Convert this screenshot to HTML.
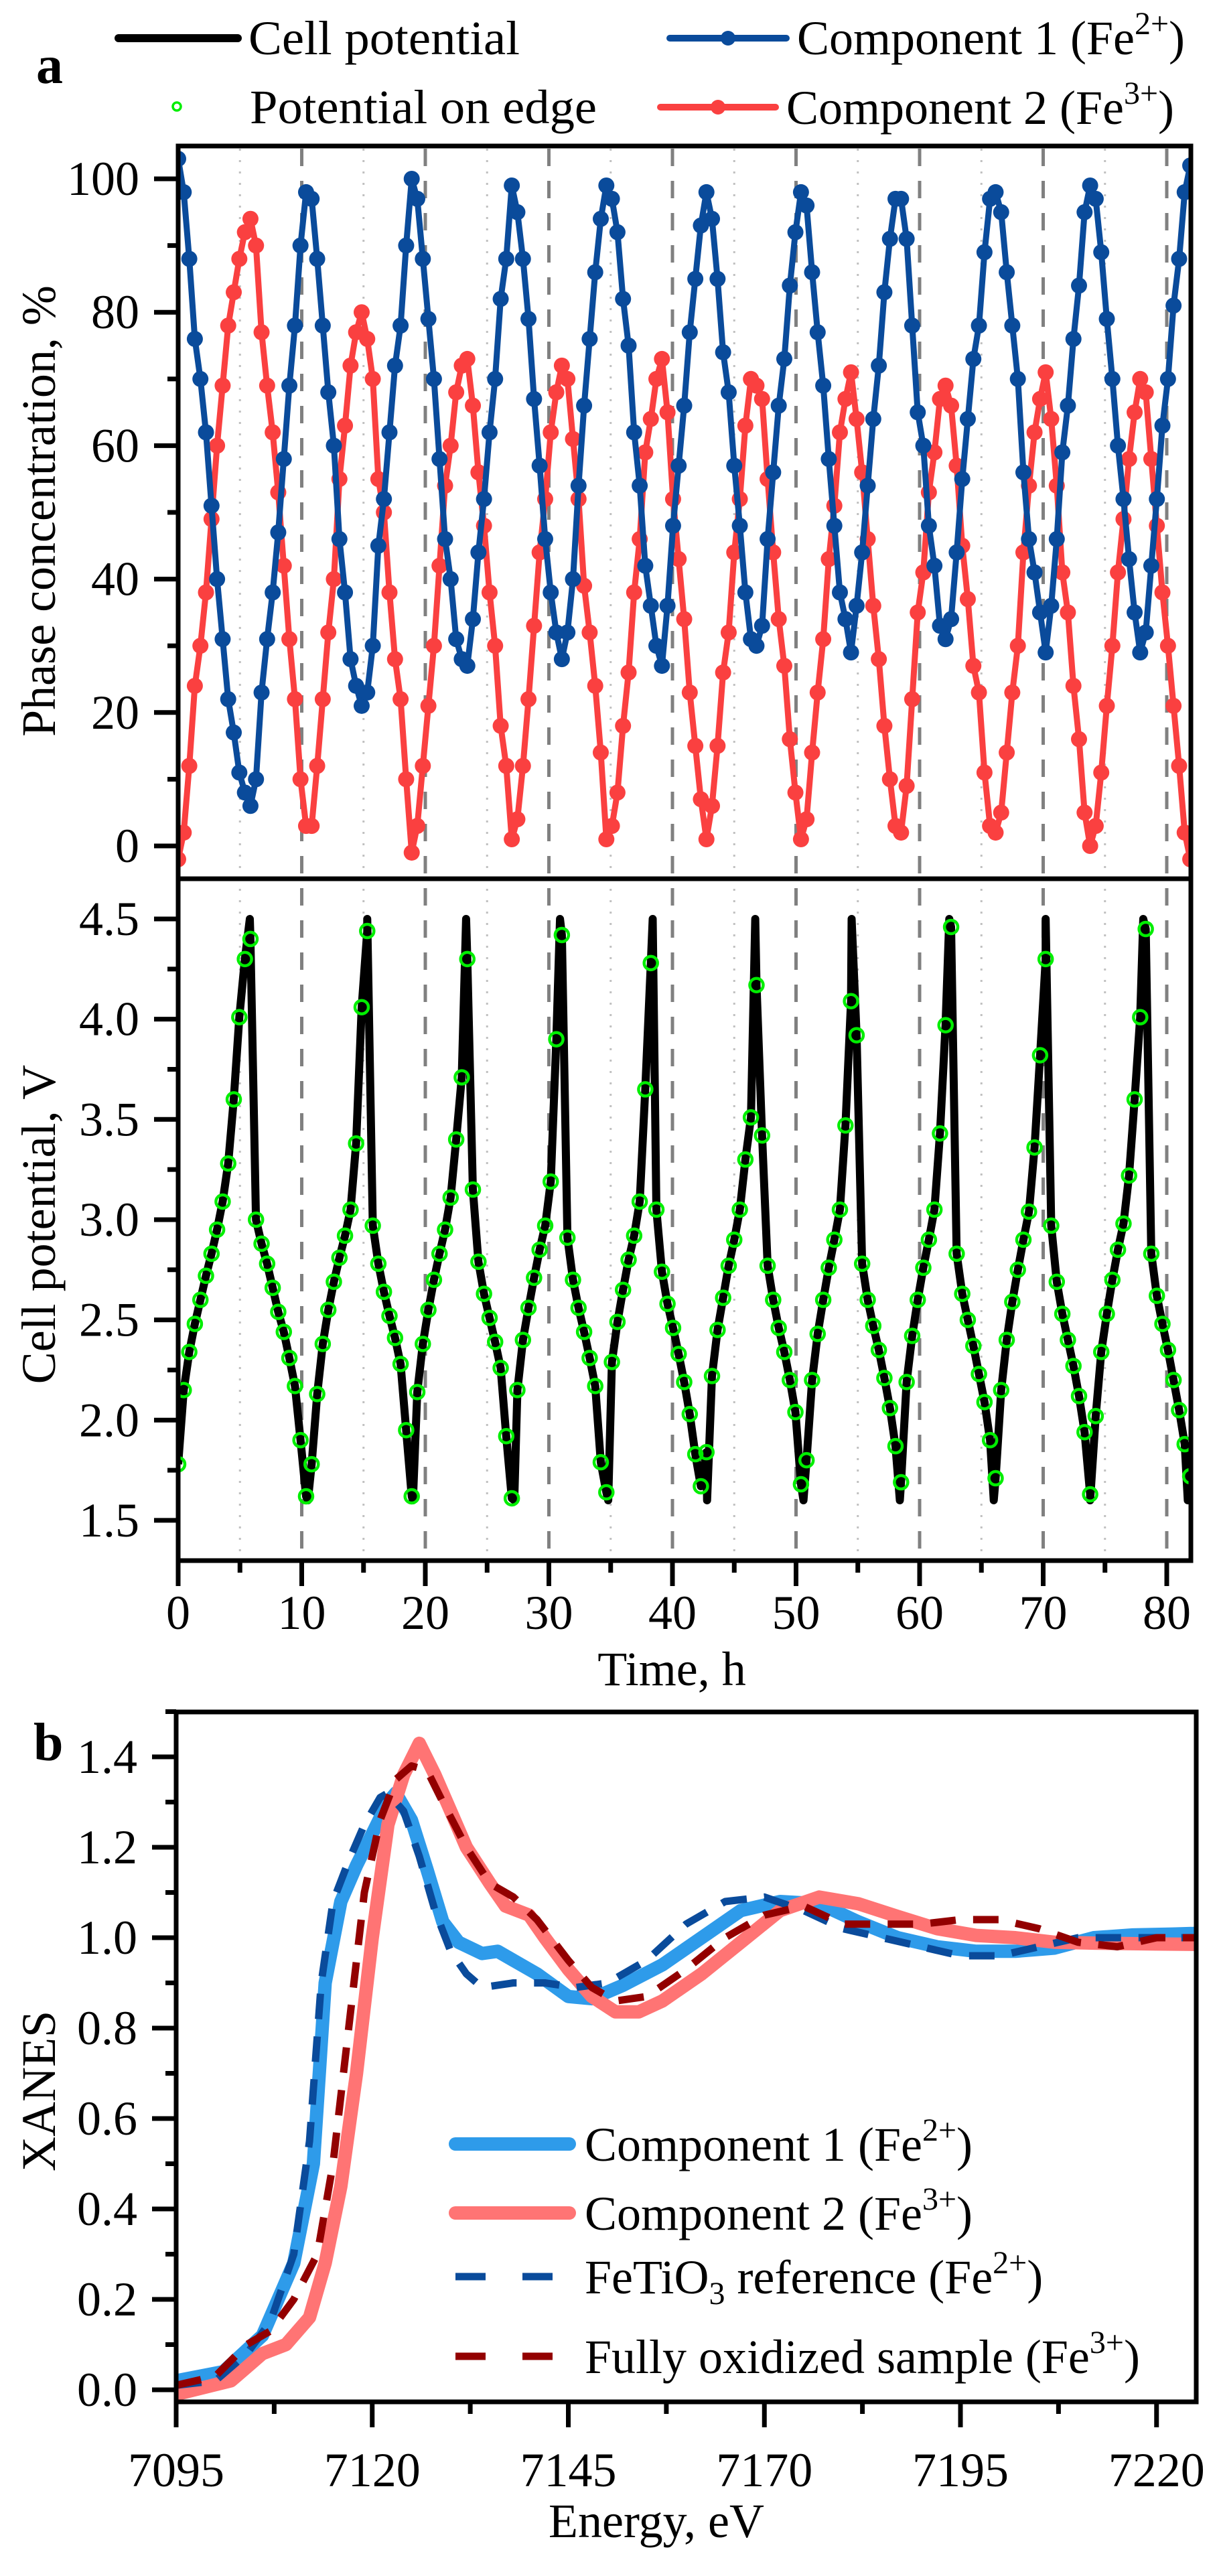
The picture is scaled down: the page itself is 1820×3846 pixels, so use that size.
<!DOCTYPE html>
<html><head><meta charset="utf-8">
<style>
html,body{margin:0;padding:0;background:#fff;}
svg, svg text{font-family:"Liberation Serif","Times New Roman",serif;}
</style></head>
<body>
<svg id="fig" xmlns="http://www.w3.org/2000/svg" width="1820" height="3841" viewBox="0 0 1820 3841" font-family="Liberation Serif, Times New Roman, serif">
<rect x="0" y="0" width="1820" height="3841" fill="#fff"/>
<g id="panelA"></g>
<g id="panelB"></g>
</svg>
<script>
// ---------- Panel a data ----------
const timeStep = 0.45; // h between samples
const comp1Values = [103,98,88,76,70,62,51,40,31,22,17,11,8,6,
10,23,31,38,47,58,69,78,90,98,
97,88,78,68,60,46,38,28,24,21,
23,30,45,52,62,72,78,90,100,
97,88,79,70,58,46,40,31,28,27,
34,44,52,62,70,82,88,99,
95,88,79,67,57,46,38,32,28,
32,40,54,66,76,86,94,99,
97,92,82,75,62,54,42,36,30,27,
36,48,57,66,77,85,93,98,
94,85,74,68,57,48,38,31,30,
33,46,56,66,73,84,92,98,
96,86,77,69,58,48,38,34,29,
36,44,54,64,72,83,91,97,97,
91,78,65,60,48,42,33,31,
34,44,55,64,73,78,89,97,98,
95,86,78,70,56,46,41,35,29,
36,46,59,66,76,84,95,99,
97,89,79,70,60,52,43,35,29,
32,42,52,63,70,81,88,98,102];
const comp2Values = [-2,2,12,24,30,38,49,60,69,78,83,88,92,94,
90,77,69,62,53,42,31,22,10,3,
3,12,22,32,40,55,63,72,77,80,
76,70,55,50,38,28,22,10,-1,
3,12,21,30,42,54,60,68,72,73,
66,56,48,38,30,18,12,1,
4,12,22,33,44,52,62,68,72,
70,61,52,39,32,24,14,1,
3,8,18,26,38,46,59,64,70,73,
65,52,43,34,23,15,7,1,
6,15,26,32,44,52,63,70,69,
67,55,44,34,27,16,8,1,
4,14,23,31,43,51,62,67,71,
64,56,46,36,28,18,10,3,2,
9,22,35,41,53,59,67,69,
66,57,45,37,27,23,11,3,2,
5,14,23,30,44,54,62,67,71,
64,54,41,35,24,16,5,0,
3,11,21,30,41,49,58,65,70,
68,58,48,38,30,21,12,2,-2];
const edgePotential = [1.78,2.15,2.34,2.48,2.60,2.72,2.83,2.95,3.09,3.28,3.60,4.01,4.30,4.40,
3.00,2.88,2.78,2.66,2.54,2.44,2.31,2.17,1.90,1.62,
1.78,2.13,2.38,2.55,2.69,2.81,2.92,3.05,3.38,4.06,4.44,
2.97,2.78,2.64,2.52,2.41,2.28,1.95,1.62,
2.14,2.38,2.55,2.70,2.83,2.95,3.11,3.40,3.71,4.30,
3.15,2.79,2.63,2.51,2.39,2.26,1.92,1.61,
2.15,2.40,2.56,2.71,2.85,2.97,3.19,3.90,4.42,
2.91,2.70,2.56,2.44,2.31,2.17,1.79,1.64,
2.29,2.49,2.65,2.80,2.92,3.09,3.65,4.28,
3.05,2.74,2.58,2.46,2.33,2.19,2.03,1.83,1.67,
1.84,2.22,2.45,2.61,2.77,2.90,3.05,3.30,3.51,4.17,
3.42,2.77,2.60,2.46,2.34,2.20,2.04,1.68,
1.80,2.20,2.43,2.60,2.76,2.90,3.05,3.47,4.09,
3.92,2.78,2.60,2.47,2.35,2.21,2.06,1.87,1.69,
2.19,2.42,2.60,2.76,2.90,3.05,3.43,3.97,4.46,
2.83,2.63,2.50,2.37,2.23,2.09,1.90,1.71,
2.15,2.40,2.59,2.75,2.90,3.04,3.36,3.82,4.30,
2.97,2.69,2.53,2.40,2.27,2.12,1.94,1.63,
2.02,2.34,2.53,2.70,2.85,2.98,3.22,3.60,4.01,4.45,
2.83,2.62,2.48,2.35,2.20,2.05,1.88,1.72];
const peakTimes = [5.8,15.3,23.3,30.9,38.4,46.7,54.5,62.4,70.2,78.1];
const peakPotential = [4.5,4.5,4.5,4.5,4.5,4.5,4.5,4.5,4.5,4.5];
const troughTimes = [10.5,19.0,27.2,34.8,42.8,50.6,58.4,66.0,73.8,81.7];
const troughPotential = [1.6,1.6,1.6,1.6,1.6,1.6,1.6,1.6,1.6,1.6];
const timeTicks = [0,10,20,30,40,50,60,70,80];
const concTicks = [0,20,40,60,80,100];
const potTicks = [1.5,2.0,2.5,3.0,3.5,4.0,4.5];

// ---------- Panel b data ----------
const c1Energy = [7095,7101,7106,7110,7112.5,7114,7116,7118,7120,7122,7123,7125,7127,7129,7131,7134,7136,7138,7141,7145,7148,7152,7157,7162,7167,7172,7177,7182,7187,7192,7197,7202,7207,7212,7217,7222,7226];
const c1Xanes = [0.02,0.04,0.12,0.28,0.50,0.90,1.08,1.16,1.23,1.30,1.32,1.26,1.15,1.035,0.99,0.965,0.97,0.95,0.92,0.87,0.865,0.895,0.94,1.0,1.06,1.08,1.075,1.035,1.0,0.98,0.97,0.97,0.977,1.0,1.006,1.008,1.01];
const c2Energy = [7095,7102,7106,7109,7112,7114,7116,7118,7120,7122,7124,7126,7128,7130,7132,7135,7137,7140,7142,7145,7148,7151,7154,7157,7162,7167,7172,7177,7182,7187,7192,7197,7202,7207,7212,7220,7226];
const c2Xanes = [-0.01,0.02,0.08,0.10,0.16,0.28,0.45,0.70,1.00,1.25,1.36,1.43,1.36,1.28,1.20,1.12,1.07,1.05,1.0,0.93,0.87,0.836,0.836,0.86,0.92,0.99,1.06,1.09,1.075,1.047,1.02,1.005,1.0,0.99,0.988,0.986,0.985];
const refEnergy = [7095,7100,7104,7107,7110,7112,7113.5,7115,7117,7119,7121,7122,7124,7126,7128,7130,7132,7134,7138,7142,7146,7150,7155,7160,7165,7170,7175,7180,7185,7190,7195,7200,7205,7210,7215,7220,7226];
const refXanes = [0.01,0.02,0.08,0.15,0.30,0.55,0.90,1.08,1.17,1.25,1.31,1.32,1.28,1.18,1.06,0.97,0.92,0.89,0.90,0.90,0.89,0.90,0.95,1.03,1.08,1.09,1.06,1.02,1.0,0.98,0.96,0.96,0.98,1.0,1.0,1.0,1.0];
const oxEnergy = [7095,7100,7104,7107,7110,7113,7115,7117,7119,7121,7123,7125,7127,7129,7132,7135,7138,7141,7145,7148,7151,7155,7160,7165,7170,7175,7180,7185,7190,7195,7200,7205,7210,7215,7220,7226];
const oxXanes = [0.01,0.03,0.10,0.13,0.20,0.30,0.50,0.80,1.10,1.26,1.35,1.38,1.37,1.30,1.20,1.12,1.09,1.04,0.95,0.89,0.86,0.87,0.93,1.0,1.05,1.07,1.03,1.03,1.03,1.04,1.04,1.02,0.99,0.98,1.0,1.0];
const energyTicks = [7095,7120,7145,7170,7195,7220];
const xanesTicks = [0.0,0.2,0.4,0.6,0.8,1.0,1.2,1.4];

// ---------- helpers ----------
const NS = "http://www.w3.org/2000/svg";
const FONT = 'Liberation Serif, Times New Roman, serif';
function mk(tag, attrs, parent){ const e=document.createElementNS(NS,tag); for(const k in attrs) e.setAttribute(k,attrs[k]); parent.appendChild(e); return e; }
const A = document.getElementById('panelA');
const B = document.getElementById('panelB');

const ax = { left:266, right:1778, top:218, mid:1312, bottom:2330 };
const xT = h => 266 + h*18.45;
const yC = v => 1263 - v*9.96;
const yV = v => 1372 + (4.5 - v)*299.3;
const bx = { left:263, right:1786, top:2556, bottom:3586 };
const xE = e => 263 + (e-7095)*11.71;
const yX = v => 3568 - v*675;

for (let h=5; h<82; h+=5){
  const major = h%10===0;
  const g = mk('line',{x1:xT(h),x2:xT(h),y1:ax.top+4,y2:ax.bottom-4,stroke:major?'#808080':'#c0c0c0','stroke-width':major?5:3,'stroke-dasharray':major?'26 22':'3 14'},A);
  
  
}

const clipA = mk('clipPath',{id:'clipTop'},A); mk('rect',{x:ax.left,y:ax.top,width:ax.right-ax.left,height:ax.mid-ax.top},clipA);
const clipB = mk('clipPath',{id:'clipBot'},A); mk('rect',{x:ax.left,y:ax.mid,width:ax.right-ax.left,height:ax.bottom-ax.mid},clipB);
const topG = mk('g',{'clip-path':'url(#clipTop)'},A);


function seriesIn(parent, vals, color, name){
  const g = mk('g',{},parent);
  
  
  let d='';
  vals.forEach((v,i)=>{ d+=(i?'L':'M')+xT(i*timeStep).toFixed(1)+' '+yC(v).toFixed(1); });
  mk('path',{d:d,fill:'none',stroke:color,'stroke-width':9,'stroke-linejoin':'round'},g);
  vals.forEach((v,i)=>{
    const c = mk('circle',{cx:xT(i*timeStep),cy:yC(v),r:12,fill:color},g);
    
    
  });
}
seriesIn(topG, comp2Values, '#fa4040', 'component-2-series');
seriesIn(topG, comp1Values, '#0a4b9b', 'component-1-series');

const botG = mk('g',{'clip-path':'url(#clipBot)'},A);


let pts = edgePotential.map((v,i)=>[i*timeStep,v]);
peakTimes.forEach((t,i)=>pts.push([t,peakPotential[i]]));
troughTimes.forEach((t,i)=>pts.push([t,troughPotential[i]]));
pts.sort((a,b)=>a[0]-b[0]);
let dp=''; pts.forEach((p,i)=>{ dp+=(i?'L':'M')+xT(p[0]).toFixed(1)+' '+yV(p[1]).toFixed(1); });
const potLine = mk('path',{d:dp,fill:'none',stroke:'#000','stroke-width':12,'stroke-linejoin':'round'},botG);


edgePotential.forEach((v,i)=>{
  const c = mk('circle',{cx:xT(i*timeStep),cy:yV(v),r:10,fill:'none',stroke:'#00ee00','stroke-width':4.5},botG);
  
  
});

const fr = mk('rect',{x:ax.left,y:ax.top,width:ax.right-ax.left,height:ax.bottom-ax.top,fill:'none',stroke:'#000','stroke-width':7},A);
 
const dv = mk('line',{x1:ax.left,x2:ax.right,y1:ax.mid,y2:ax.mid,stroke:'#000','stroke-width':7},A);
 

function txt(parent, x, y, s, attrs, name){
  const t = mk('text',Object.assign({x:x,y:y,'font-size':72,fill:'#000','font-family':FONT},attrs||{}),parent);
  t.textContent = s;
  
  
  return t;
}
concTicks.forEach(v=>{
  mk('line',{x1:ax.left-36,x2:ax.left,y1:yC(v),y2:yC(v),stroke:'#000','stroke-width':7},A);
  txt(A, ax.left-58, yC(v)+24, String(v), {'text-anchor':'end'}, 'y-tick-label');
});
for(let v=10; v<=90; v+=20) mk('line',{x1:ax.left-16,x2:ax.left,y1:yC(v),y2:yC(v),stroke:'#000','stroke-width':7},A);
potTicks.forEach(v=>{
  mk('line',{x1:ax.left-36,x2:ax.left,y1:yV(v),y2:yV(v),stroke:'#000','stroke-width':7},A);
  txt(A, ax.left-58, yV(v)+24, v.toFixed(1), {'text-anchor':'end'}, 'y-tick-label');
});
for(let v=1.75; v<4.5; v+=0.5) mk('line',{x1:ax.left-16,x2:ax.left,y1:yV(v),y2:yV(v),stroke:'#000','stroke-width':7},A);
timeTicks.forEach(h=>{
  mk('line',{x1:xT(h),x2:xT(h),y1:ax.bottom,y2:ax.bottom+38,stroke:'#000','stroke-width':7},A);
  txt(A, xT(h), 2432, String(h), {'text-anchor':'middle'}, 'x-tick-label');
});
for(let h=5; h<82; h+=10) mk('line',{x1:xT(h),x2:xT(h),y1:ax.bottom,y2:ax.bottom+18,stroke:'#000','stroke-width':7},A);
txt(A, 1003, 2516, 'Time, h', {'text-anchor':'middle'}, 'x-axis-title');
txt(A, 0, 0, 'Phase concentration, %', {'text-anchor':'middle',transform:'translate(82,763) rotate(-90)'}, 'y-axis-title-concentration');
txt(A, 0, 0, 'Cell potential, V', {'text-anchor':'middle',transform:'translate(82,1828) rotate(-90)'}, 'y-axis-title-potential');
txt(A, 54, 124, 'a', {'font-weight':'bold','font-size':80}, 'panel-label-a');

const LA = mk('g',{},A);  
mk('line',{x1:177,x2:355,y1:57,y2:57,stroke:'#000','stroke-width':12,'stroke-linecap':'round'},LA);
txt(LA, 371, 81, 'Cell potential', {textLength:405,lengthAdjust:'spacingAndGlyphs'}, 'legend-cell-potential');
mk('circle',{cx:264,cy:159,r:6,fill:'none',stroke:'#00ee00','stroke-width':3.5},LA);
txt(LA, 373, 184, 'Potential on edge', {textLength:518,lengthAdjust:'spacingAndGlyphs'}, 'legend-potential-on-edge');
mk('line',{x1:1000,x2:1174,y1:57,y2:57,stroke:'#0a4b9b','stroke-width':10,'stroke-linecap':'round'},LA);
mk('circle',{cx:1087,cy:57,r:11,fill:'#0a4b9b'},LA);
const l1 = txt(LA, 1190, 81, '', {}, 'legend-component-1');
l1.innerHTML = 'Component 1 (Fe<tspan font-size="48" dy="-30">2+</tspan><tspan dy="30">)</tspan>';
mk('line',{x1:986,x2:1158,y1:160,y2:160,stroke:'#fa4040','stroke-width':10,'stroke-linecap':'round'},LA);
mk('circle',{cx:1072,cy:160,r:11,fill:'#fa4040'},LA);
const l2 = txt(LA, 1174, 185, '', {}, 'legend-component-2');
l2.innerHTML = 'Component 2 (Fe<tspan font-size="48" dy="-30">3+</tspan><tspan dy="30">)</tspan>';

// ---------- Panel b ----------
const clipX = mk('clipPath',{id:'clipX'},B); mk('rect',{x:bx.left,y:bx.top,width:bx.right-bx.left,height:bx.bottom-bx.top},clipX);
const plotB = mk('g',{'clip-path':'url(#clipX)'},B);
 
function curve(E, V, color, w, dash, name){
  let d=''; E.forEach((e,i)=>{ d+=(i?'L':'M')+xE(e).toFixed(1)+' '+yX(V[i]).toFixed(1); });
  const p = mk('path',{d:d,fill:'none',stroke:color,'stroke-width':w,'stroke-linejoin':'round','stroke-linecap':dash?'butt':'round'},plotB);
  if(dash) p.setAttribute('stroke-dasharray',dash);
  
  
}
curve(c1Energy, c1Xanes, '#2e9bea', 20, null, 'component-1-curve');
curve(c2Energy, c2Xanes, '#ff7474', 20, null, 'component-2-curve');
curve(refEnergy, refXanes, '#0a4b9b', 11, '38 26', 'fetio3-reference-curve');
curve(oxEnergy, oxXanes, '#930000', 11, '38 26', 'fully-oxidized-curve');
const frB = mk('rect',{x:bx.left,y:bx.top,width:bx.right-bx.left,height:bx.bottom-bx.top,fill:'none',stroke:'#000','stroke-width':7},B);
 
xanesTicks.forEach(v=>{
  mk('line',{x1:bx.left-36,x2:bx.left,y1:yX(v),y2:yX(v),stroke:'#000','stroke-width':7},B);
  txt(B, bx.left-58, yX(v)+24, v.toFixed(1), {'text-anchor':'end'}, 'y-tick-label');
});
for(let v=0.1; v<1.5; v+=0.2) mk('line',{x1:bx.left-16,x2:bx.left,y1:yX(v),y2:yX(v),stroke:'#000','stroke-width':7},B);
energyTicks.forEach(e=>{
  mk('line',{x1:xE(e),x2:xE(e),y1:bx.bottom,y2:bx.bottom+38,stroke:'#000','stroke-width':7},B);
  txt(B, xE(e), 3712, String(e), {'text-anchor':'middle'}, 'x-tick-label');
});
for(let e=7107.5; e<7226; e+=25) mk('line',{x1:xE(e),x2:xE(e),y1:bx.bottom,y2:bx.bottom+18,stroke:'#000','stroke-width':7},B);
txt(B, 980, 3788, 'Energy, eV', {'text-anchor':'middle'}, 'x-axis-title-energy');
txt(B, 0, 0, 'XANES', {'text-anchor':'middle',transform:'translate(82,3122) rotate(-90)'}, 'y-axis-title-xanes');
txt(B, 50, 2628, 'b', {'font-weight':'bold','font-size':80}, 'panel-label-b');

const LB = mk('g',{},B);  
mk('line',{x1:680,x2:850,y1:3201,y2:3201,stroke:'#2e9bea','stroke-width':20,'stroke-linecap':'round'},LB);
const b1 = txt(LB, 873, 3226, '', {}, 'legend-b-component-1');
b1.innerHTML = 'Component 1 (Fe<tspan font-size="48" dy="-30">2+</tspan><tspan dy="30">)</tspan>';
mk('line',{x1:680,x2:850,y1:3304,y2:3304,stroke:'#ff7474','stroke-width':20,'stroke-linecap':'round'},LB);
const b2 = txt(LB, 873, 3329, '', {}, 'legend-b-component-2');
b2.innerHTML = 'Component 2 (Fe<tspan font-size="48" dy="-30">3+</tspan><tspan dy="30">)</tspan>';
mk('line',{x1:680,x2:840,y1:3399,y2:3399,stroke:'#0a4b9b','stroke-width':11,'stroke-dasharray':'45 55'},LB);
const b3 = txt(LB, 873, 3424, '', {}, 'legend-b-fetio3');
b3.innerHTML = 'FeTiO<tspan font-size="48" dy="16">3</tspan><tspan dy="-16"> reference (Fe</tspan><tspan font-size="48" dy="-30">2+</tspan><tspan dy="30">)</tspan>';
mk('line',{x1:680,x2:840,y1:3518,y2:3518,stroke:'#930000','stroke-width':11,'stroke-dasharray':'45 55'},LB);
const b4 = txt(LB, 873, 3543, '', {}, 'legend-b-fully-oxidized');
b4.innerHTML = 'Fully oxidized sample (Fe<tspan font-size="48" dy="-30">3+</tspan><tspan dy="30">)</tspan>';
</script>
</body></html>
